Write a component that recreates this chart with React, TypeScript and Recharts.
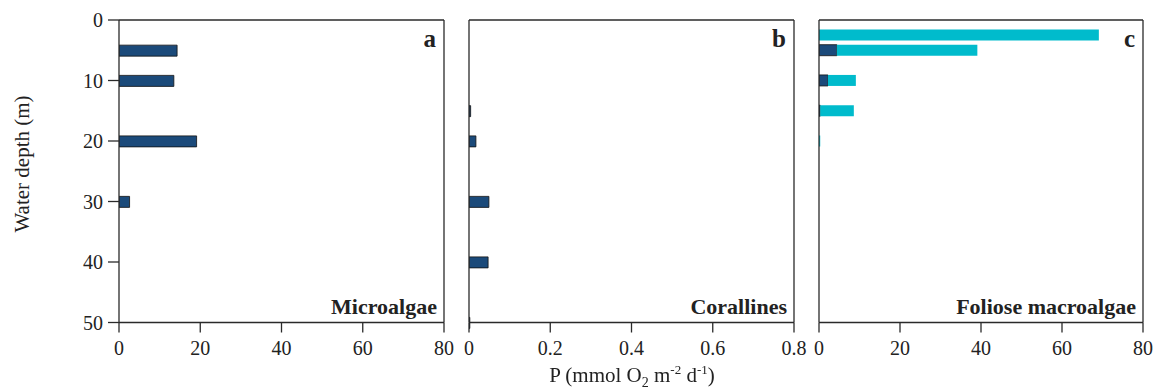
import { Bar, BarChart, ReferenceLine, XAxis, YAxis } from "recharts";

const depthsA = [5, 10, 20, 30];
const microalgae = [14.3, 13.5, 19.1, 2.6];
const depthsB = [15, 20, 30, 40, 50];
const corallines = [0.004, 0.017, 0.049, 0.047, 0.002];
const depthsC = [2.5, 5, 10, 15, 20];
const folioseDark = [0, 4.4, 2.2, 0.3, 0];
const folioseCyan = [69.1, 34.7, 6.9, 8.3, 0.3];
const depthTicks = [0, 10, 20, 30, 40, 50];
const ticks80 = [0, 20, 40, 60, 80];
const ticks08 = [0, 0.2, 0.4, 0.6, 0.8];

const serif = "'Liberation Serif', 'Times New Roman', serif";
const axisColor = "#2a2a2a";
const dark = "#1b4a7a";
const cyan = "#00bbcc";
const tickStyle = { fontSize: 20, fill: "#222", fontFamily: serif };

const dataA = depthsA.map((depth, i) => ({ depth, v: microalgae[i] }));
const dataB = depthsB.map((depth, i) => ({ depth, v: corallines[i] }));
const dataC = depthsC.map((depth, i) => ({ depth, d: folioseDark[i], c: folioseCyan[i] }));

type PanelProps = {
  data: object[];
  left: number;
  yWidth: number;
  plotWidth: number;
  xMax: number;
  xTicks: number[];
  yLabels: boolean;
  letter: string;
  name: string;
  children: React.ReactNode;
};

function Panel({ data, left, yWidth, plotWidth, xMax, xTicks, yLabels, letter, name, children }: PanelProps) {
  const width = yWidth + plotWidth + 13;
  const plotRight = yWidth + plotWidth;
  return (
    <div style={{ position: "absolute", left, top: 0, width, height: 390 }}>
      <BarChart
        width={width}
        height={390}
        data={data}
        layout="vertical"
        margin={{ top: 20, right: 13, bottom: 0, left: 0 }}
        barSize={11}
      >
        <XAxis
          type="number"
          domain={[0, xMax]}
          ticks={xTicks}
          height={67.5}
          tickSize={10}
          tickMargin={8}
          stroke={axisColor}
          strokeWidth={1.3}
          tick={tickStyle}
          allowDataOverflow
        />
        <YAxis
          type="number"
          dataKey="depth"
          domain={[0, 50]}
          ticks={depthTicks}
          width={yWidth}
          tickSize={11}
          tickMargin={5}
          stroke={axisColor}
          strokeWidth={1.3}
          tick={yLabels ? tickStyle : false}
        />
        <ReferenceLine y={0} stroke={axisColor} strokeWidth={1.3} />
        <ReferenceLine x={xMax} stroke={axisColor} strokeWidth={1.3} />
        {children}
      </BarChart>
      <div
        style={{
          position: "absolute",
          right: width - plotRight + 8,
          top: 25,
          fontFamily: serif,
          fontWeight: "bold",
          fontSize: 25,
          lineHeight: "28px",
          color: "#222",
        }}
      >
        {letter}
      </div>
      <div
        style={{
          position: "absolute",
          right: width - plotRight + 7,
          top: 294,
          fontFamily: serif,
          fontWeight: "bold",
          fontSize: 22,
          lineHeight: "26px",
          color: "#222",
          whiteSpace: "nowrap",
        }}
      >
        {name}
      </div>
    </div>
  );
}

export default function App() {
  return (
    <div style={{ position: "fixed", left: 0, top: 0, width: 1159, height: 390, background: "#fff" }}>
      <Panel data={dataA} left={0} yWidth={119} plotWidth={325} xMax={80} xTicks={ticks80} yLabels letter="a" name="Microalgae">
        <Bar dataKey="v" fill={dark} stroke="#111" strokeWidth={0.8} isAnimationActive={false} />
      </Panel>
      <Panel data={dataB} left={456} yWidth={13} plotWidth={325} xMax={0.8} xTicks={ticks08} yLabels={false} letter="b" name="Corallines">
        <Bar dataKey="v" fill={dark} stroke="#111" strokeWidth={0.8} isAnimationActive={false} />
      </Panel>
      <Panel data={dataC} left={806} yWidth={13} plotWidth={324} xMax={80} xTicks={ticks80} yLabels={false} letter="c" name="Foliose macroalgae">
        <Bar dataKey="d" stackId="c" fill={dark} stroke="#111" strokeWidth={0.8} isAnimationActive={false} />
        <Bar dataKey="c" stackId="c" fill={cyan} isAnimationActive={false} />
      </Panel>
      <div
        style={{
          position: "absolute",
          left: 22,
          top: 164,
          transform: "translate(-50%, -50%) rotate(-90deg)",
          fontFamily: serif,
          fontSize: 21,
          color: "#222",
          whiteSpace: "nowrap",
        }}
      >
        Water depth (m)
      </div>
      <div
        style={{
          position: "absolute",
          left: 632,
          top: 364,
          transform: "translateX(-50%)",
          fontFamily: serif,
          fontSize: 21,
          color: "#222",
          whiteSpace: "nowrap",
          lineHeight: "22px",
        }}
      >
        P (mmol O<sub style={{ fontSize: 14, lineHeight: 0 }}>2</sub> m<sup style={{ fontSize: 13, lineHeight: 0 }}>-2</sup> d
        <sup style={{ fontSize: 13, lineHeight: 0 }}>-1</sup>)
      </div>
    </div>
  );
}
